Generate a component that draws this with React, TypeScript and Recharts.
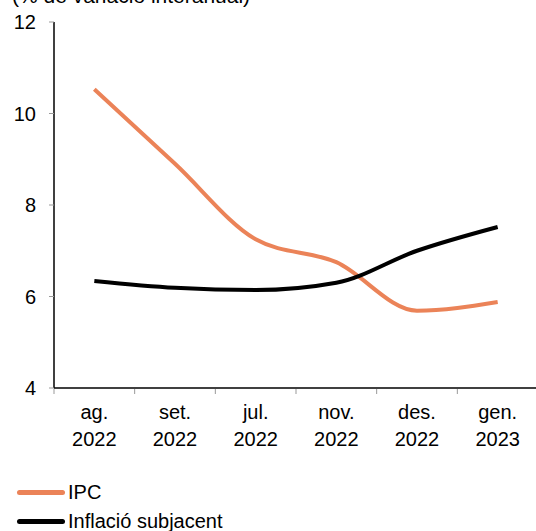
import { LineChart, Line, XAxis, YAxis } from 'recharts';

const months = ['ag.', 'set.', 'jul.', 'nov.', 'des.', 'gen.'];
const years = ['2022', '2022', '2022', '2022', '2022', '2023'];
const ipc = [10.53, 8.9, 7.25, 6.75, 5.69, 5.88];
const core = [6.34, 6.19, 6.14, 6.3, 7.0, 7.52];
const yTicks = [4, 6, 8, 10, 12];

const seriesNames = ['IPC', 'Inflació subjacent'];
const seriesColors = ['#EB8358', '#000000'];

const data = months.map((m, i) => ({ i, month: m, year: years[i], ipc: ipc[i], core: core[i] }));
const labelTicks = months.map((_, i) => i);
const sepTicks = [...months.map((_, i) => i - 0.5), months.length - 0.5];

const font = '"Liberation Sans", Arial, sans-serif';

const MonthTick = (props: any) => {
  const { x, y, payload } = props;
  const d = data[payload.value];
  if (!d) return <g />;
  return (
    <text x={x} y={y} textAnchor="middle" fontSize={20} fill="#000" fontFamily={font}>
      <tspan x={x} dy={23}>{d.month}</tspan>
      <tspan x={x} dy={27}>{d.year}</tspan>
    </text>
  );
};

export default function App() {
  return (
    <div
      style={{
        position: 'absolute',
        left: 0,
        top: 0,
        width: 536,
        height: 531,
        overflow: 'hidden',
        background: '#fff',
        fontFamily: font,
      }}
    >
      <div style={{ position: 'absolute', left: 12, top: -16, fontSize: 21, whiteSpace: 'nowrap' }}>
        (% de variació interanual)
      </div>
      <div style={{ position: 'absolute', left: 0, top: 0 }}>
        <LineChart width={540} height={470} data={data} margin={{ top: 22, right: 2, left: 0, bottom: 80 }}>
          <XAxis
            xAxisId="lab"
            dataKey="i"
            type="number"
            domain={[-0.5, months.length - 0.5]}
            ticks={labelTicks}
            height={1}
            axisLine={{ stroke: '#000', strokeWidth: 1.5 }}
            tickLine={false}
            tick={<MonthTick />}
            interval={0}
          />
          <XAxis
            xAxisId="sep"
            dataKey="i"
            type="number"
            domain={[-0.5, months.length - 0.5]}
            ticks={sepTicks}
            height={1}
            axisLine={false}
            tickLine={{ stroke: '#999' }}
            tickSize={5}
            tick={() => <g />}
            interval={0}
          />
          <YAxis
            domain={[4, 12]}
            ticks={yTicks}
            width={54}
            axisLine={{ stroke: '#000', strokeWidth: 1.5 }}
            tickLine={{ stroke: '#999' }}
            tickSize={5}
            tickMargin={13}
            tick={{ fontSize: 20, fill: '#000', fontFamily: font }}
            interval={0}
          />
          <Line
            xAxisId="lab"
            type="monotone"
            dataKey="ipc"
            name={seriesNames[0]}
            stroke={seriesColors[0]}
            strokeWidth={4}
            dot={false}
            isAnimationActive={false}
          />
          <Line
            xAxisId="lab"
            type="monotone"
            dataKey="core"
            name={seriesNames[1]}
            stroke={seriesColors[1]}
            strokeWidth={4}
            dot={false}
            isAnimationActive={false}
          />
        </LineChart>
      </div>
      {seriesNames.map((n, k) => (
        <div
          key={n}
          style={{
            position: 'absolute',
            left: 17,
            top: 480 + k * 29,
            height: 24,
            display: 'flex',
            alignItems: 'center',
            fontSize: 20,
            whiteSpace: 'nowrap',
          }}
        >
          <span
            style={{
              display: 'inline-block',
              width: 48,
              height: 5,
              borderRadius: 3,
              background: seriesColors[k],
              marginRight: 3,
            }}
          />
          {n}
        </div>
      ))}
    </div>
  );
}
